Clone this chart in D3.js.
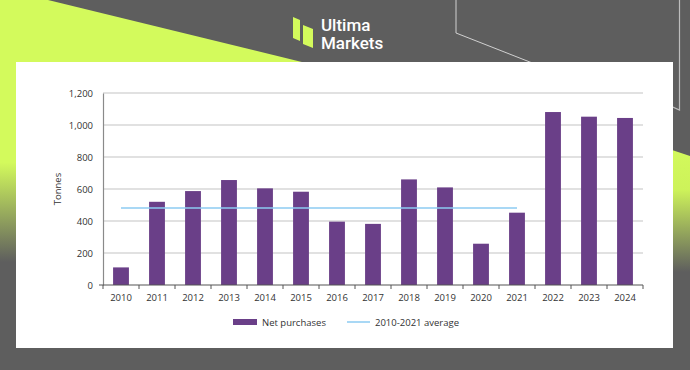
<!DOCTYPE html>
<html>
<head>
<meta charset="utf-8">
<script src="https://cdn.jsdelivr.net/npm/d3@7/dist/d3.min.js"></script>
<style>
  html, body { margin: 0; padding: 0; background: #5e5e5e; }
  svg { display: block; }
</style>
</head>
<body>
<div id="chart"></div>
<script>
'use strict';

var years = ['2010', '2011', '2012', '2013', '2014', '2015', '2016', '2017',
             '2018', '2019', '2020', '2021', '2022', '2023', '2024'];
var netPurchases = [110, 520, 587, 656, 604, 583, 396, 382,
                    660, 610, 258, 452, 1081, 1052, 1044];
var averageLabel = '2010-2021 average';
var averageValue = 481;
var averageYears = ['2010', '2021'];
var yTicks = [0, 200, 400, 600, 800, 1000, 1200];

var width = 690, height = 370;

var svg = d3.select('#chart')
    .append('svg')
    .attr('width', width)
    .attr('height', height);

// background decoration
var defs = svg.append('defs');
var gl = defs.append('linearGradient')
    .attr('id', 'limeLeft').attr('x1', 0).attr('y1', 0).attr('x2', 0).attr('y2', 1);
gl.append('stop').attr('offset', '0%').attr('stop-color', '#d3fa5c');
gl.append('stop').attr('offset', '62%').attr('stop-color', '#d3fa5c');
gl.append('stop').attr('offset', '100%').attr('stop-color', '#5e5e5e');

var gr = defs.append('linearGradient')
    .attr('id', 'limeRight').attr('x1', 0).attr('y1', 0).attr('x2', 0).attr('y2', 1);
gr.append('stop').attr('offset', '0%').attr('stop-color', '#d3fa5c');
gr.append('stop').attr('offset', '35%').attr('stop-color', '#cdf25a');
gr.append('stop').attr('offset', '100%').attr('stop-color', '#5e5e5e');

svg.append('rect').attr('width', width).attr('height', height).attr('fill', '#5e5e5e');

svg.append('path')
    .attr('d', 'M0,0 L48,0 L310,64 L310,262 L0,262 Z')
    .attr('fill', 'url(#limeLeft)');

svg.append('path')
    .attr('d', 'M660,146 L690,156 L690,272 L660,272 Z')
    .attr('fill', 'url(#limeRight)');

svg.append('path')
    .attr('d', 'M456,0 L456,33 L540,66')
    .attr('fill', 'none').attr('stroke', '#d0d0d0').attr('stroke-width', 1);
svg.append('path')
    .attr('d', 'M679.5,0 L679.5,110 L666,104')
    .attr('fill', 'none').attr('stroke', '#bdbdbd').attr('stroke-width', 1.2);

// logo
var logo = svg.append('g');
logo.append('path').attr('d', 'M293,17 L300,20 L300,41 L293,38 Z').attr('fill', '#d3fa5c');
logo.append('path').attr('d', 'M303,25 L313,29 L313,48 L303,44 Z').attr('fill', '#d3fa5c');
logo.append('text').attr('x', 321).attr('y', 31)
    .attr('font-family', 'Roboto, sans-serif').attr('font-weight', 500)
    .attr('font-size', 17).attr('fill', '#ffffff').text('Ultima');
logo.append('text').attr('x', 321).attr('y', 48.5)
    .attr('font-family', 'Roboto, sans-serif').attr('font-weight', 500)
    .attr('font-size', 17).attr('fill', '#ffffff').text('Markets');

// white panel
svg.append('rect')
    .attr('x', 16).attr('y', 62).attr('width', 657).attr('height', 286)
    .attr('fill', '#ffffff');

var font = '"Open Sans", sans-serif';
var textColor = '#333333';

var x = d3.scaleBand()
    .domain(years)
    .range([103, 643])
    .paddingInner(0.56)
    .paddingOuter(0.28);

var y = d3.scaleLinear()
    .domain([0, 1200])
    .range([285, 93]);

// gridlines
svg.append('g')
    .selectAll('line')
    .data(yTicks.filter(function (d) { return d > 0; }))
    .enter().append('line')
    .attr('x1', 103).attr('x2', 643)
    .attr('y1', function (d) { return y(d); })
    .attr('y2', function (d) { return y(d); })
    .attr('stroke', '#c4c4c4').attr('stroke-width', 1.2);

// y axis
var yAxis = svg.append('g')
    .attr('transform', 'translate(103,0)')
    .call(d3.axisLeft(y).tickValues(yTicks).tickSize(0).tickPadding(10)
        .tickFormat(d3.format(',')));
yAxis.select('.domain').attr('stroke', '#8a8a8a').attr('stroke-width', 1.2);
yAxis.selectAll('text')
    .attr('font-family', font).attr('font-size', 9.5).attr('fill', textColor);

svg.append('text')
    .attr('transform', 'translate(61,189) rotate(-90)')
    .attr('text-anchor', 'middle')
    .attr('font-family', font).attr('font-size', 9.5).attr('fill', textColor)
    .text('Tonnes');

// bars
svg.append('g')
    .selectAll('rect')
    .data(netPurchases)
    .enter().append('rect')
    .attr('x', function (d, i) { return x(years[i]); })
    .attr('y', function (d) { return y(d); })
    .attr('width', x.bandwidth())
    .attr('height', function (d) { return y(0) - y(d); })
    .attr('fill', '#6a3f88');

// average line
svg.append('line')
    .attr('x1', x(averageYears[0]) + x.bandwidth() / 2)
    .attr('x2', x(averageYears[1]) + x.bandwidth() / 2)
    .attr('y1', y(averageValue)).attr('y2', y(averageValue))
    .attr('stroke', '#8ccbf2').attr('stroke-width', 1.5);

// x axis
var xAxis = svg.append('g')
    .attr('transform', 'translate(0,285)')
    .call(d3.axisBottom(x).tickSize(0).tickPadding(9));
xAxis.select('.domain').remove();
xAxis.selectAll('text')
    .attr('font-family', font).attr('font-size', 9.5).attr('fill', textColor);

svg.append('line')
    .attr('x1', 99).attr('x2', 643).attr('y1', 285).attr('y2', 285)
    .attr('stroke', '#555555').attr('stroke-width', 1.2);

var bounds = years.map(function (d) { return x(d) - x.step() * x.paddingOuter(); });
bounds.push(643);
svg.append('g')
    .selectAll('line')
    .data(bounds)
    .enter().append('line')
    .attr('x1', function (d) { return d; }).attr('x2', function (d) { return d; })
    .attr('y1', 285).attr('y2', 289)
    .attr('stroke', '#555555').attr('stroke-width', 1);

// legend
var legend = svg.append('g').attr('font-family', font).attr('font-size', 9.5).attr('fill', textColor);
legend.append('rect').attr('x', 233).attr('y', 319).attr('width', 24).attr('height', 6).attr('fill', '#6a3f88');
legend.append('text').attr('x', 262).attr('y', 325.5).text('Net purchases');
legend.append('line').attr('x1', 347).attr('x2', 370).attr('y1', 322).attr('y2', 322)
    .attr('stroke', '#8ccbf2').attr('stroke-width', 1.5);
legend.append('text').attr('x', 375).attr('y', 325.5).text(averageLabel);
</script>
</body>
</html>
